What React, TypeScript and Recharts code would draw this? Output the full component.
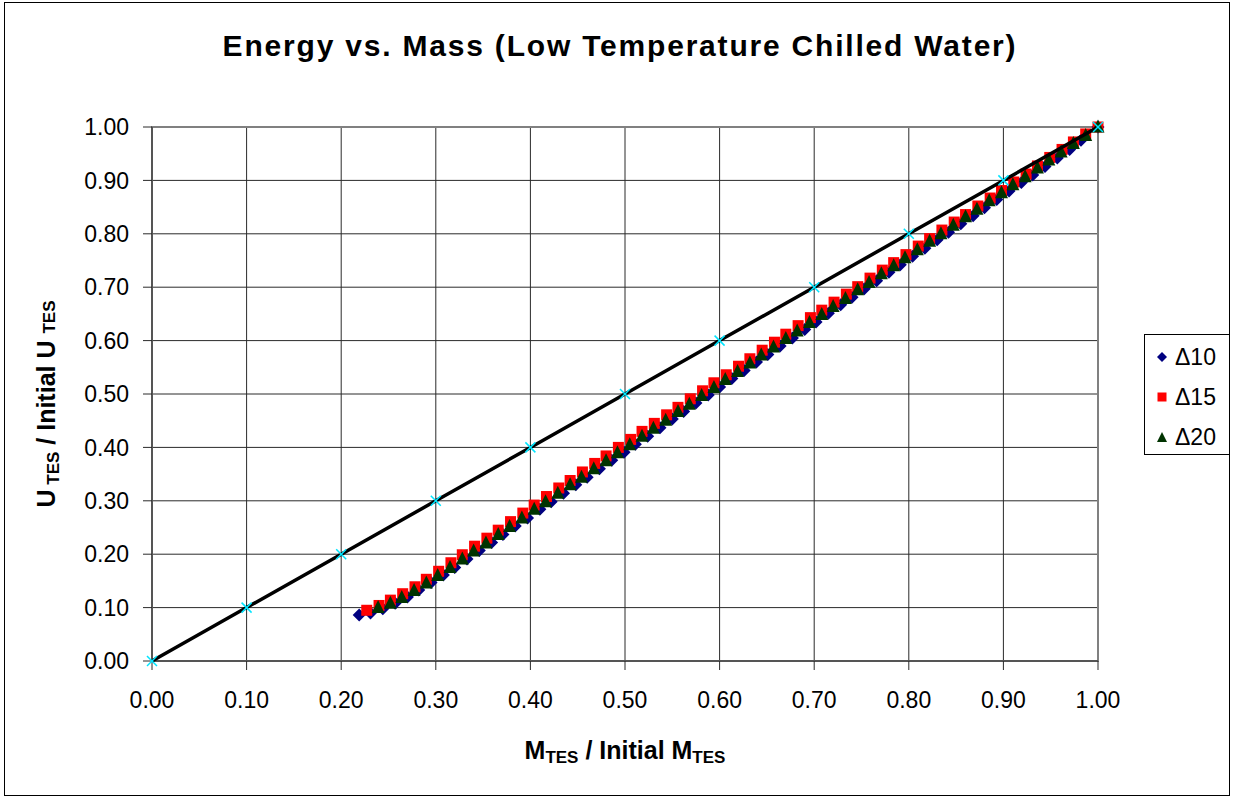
import React from 'react';
import { ScatterChart, Scatter, XAxis, YAxis, CartesianGrid, ReferenceArea } from 'recharts';

// mass fraction / energy fraction
const massD10 = [
  0.219, 0.231, 0.244, 0.257, 0.270, 0.282, 0.295, 0.308, 0.320, 0.333,
  0.346, 0.359, 0.371, 0.384, 0.397, 0.410, 0.422, 0.435, 0.448, 0.460,
  0.473, 0.486, 0.499, 0.511, 0.524, 0.537, 0.550, 0.562, 0.575, 0.588,
  0.600, 0.613, 0.626, 0.639, 0.651, 0.664, 0.677, 0.690, 0.702, 0.715,
  0.728, 0.740, 0.753, 0.766, 0.779, 0.791, 0.804, 0.817, 0.830, 0.842,
  0.855, 0.868, 0.880, 0.893, 0.906, 0.919, 0.931, 0.944, 0.957, 0.970,
  0.982, 1.000,
];
const energyD10 = [
  0.086, 0.090, 0.098, 0.108, 0.120, 0.133, 0.147, 0.161, 0.175, 0.191,
  0.207, 0.222, 0.237, 0.253, 0.268, 0.284, 0.298, 0.314, 0.330, 0.344,
  0.360, 0.376, 0.391, 0.406, 0.421, 0.437, 0.453, 0.467, 0.483, 0.498,
  0.513, 0.529, 0.544, 0.560, 0.574, 0.590, 0.605, 0.621, 0.635, 0.651,
  0.667, 0.681, 0.697, 0.712, 0.728, 0.742, 0.758, 0.773, 0.789, 0.803,
  0.819, 0.834, 0.849, 0.864, 0.880, 0.896, 0.910, 0.926, 0.942, 0.958,
  0.975, 1.000,
];

const massD15 = [
  0.227, 0.240, 0.252, 0.265, 0.278, 0.290, 0.303, 0.316, 0.328, 0.341,
  0.354, 0.366, 0.379, 0.392, 0.404, 0.417, 0.430, 0.442, 0.455, 0.468,
  0.480, 0.493, 0.506, 0.518, 0.531, 0.544, 0.556, 0.569, 0.582, 0.594,
  0.607, 0.620, 0.632, 0.645, 0.658, 0.670, 0.683, 0.696, 0.708, 0.721,
  0.734, 0.746, 0.759, 0.772, 0.784, 0.797, 0.810, 0.822, 0.835, 0.848,
  0.860, 0.873, 0.886, 0.898, 0.911, 0.924, 0.936, 0.949, 0.962, 0.974,
  0.987, 1.000,
];
const energyD15 = [
  0.095, 0.104, 0.114, 0.126, 0.139, 0.153, 0.168, 0.184, 0.199, 0.215,
  0.230, 0.245, 0.261, 0.277, 0.292, 0.308, 0.324, 0.338, 0.354, 0.370,
  0.384, 0.400, 0.415, 0.430, 0.445, 0.461, 0.475, 0.491, 0.506, 0.521,
  0.536, 0.552, 0.566, 0.582, 0.597, 0.612, 0.628, 0.643, 0.657, 0.672,
  0.687, 0.701, 0.717, 0.732, 0.746, 0.761, 0.777, 0.791, 0.807, 0.822,
  0.836, 0.852, 0.867, 0.881, 0.897, 0.912, 0.927, 0.943, 0.958, 0.972,
  0.987, 1.000,
];

const massD20 = [
  0.239, 0.252, 0.264, 0.277, 0.290, 0.302, 0.315, 0.328, 0.340, 0.353,
  0.366, 0.378, 0.391, 0.404, 0.416, 0.429, 0.442, 0.454, 0.467, 0.480,
  0.492, 0.505, 0.518, 0.530, 0.543, 0.556, 0.568, 0.581, 0.594, 0.606,
  0.619, 0.632, 0.644, 0.657, 0.670, 0.682, 0.695, 0.708, 0.720, 0.733,
  0.746, 0.758, 0.771, 0.784, 0.796, 0.809, 0.822, 0.834, 0.847, 0.860,
  0.872, 0.885, 0.898, 0.910, 0.923, 0.936, 0.948, 0.961, 0.974, 0.987,
  1.000,
];
const energyD20 = [
  0.100, 0.108, 0.119, 0.132, 0.146, 0.160, 0.175, 0.191, 0.206, 0.221,
  0.237, 0.252, 0.268, 0.284, 0.298, 0.314, 0.330, 0.344, 0.360, 0.375,
  0.390, 0.405, 0.421, 0.436, 0.451, 0.467, 0.481, 0.497, 0.512, 0.527,
  0.542, 0.558, 0.573, 0.588, 0.604, 0.618, 0.634, 0.649, 0.664, 0.679,
  0.695, 0.709, 0.725, 0.740, 0.755, 0.770, 0.786, 0.800, 0.816, 0.832,
  0.846, 0.862, 0.877, 0.892, 0.907, 0.923, 0.938, 0.953, 0.969, 0.984,
  1.000,
];

// 1:1 reference line
const idealMass = [0, 0.1, 0.2, 0.3, 0.4, 0.5, 0.6, 0.7, 0.8, 0.9, 1.0];
const idealEnergy = [0, 0.1, 0.2, 0.3, 0.4, 0.5, 0.6, 0.7, 0.8, 0.9, 1.0];

const axisTicks = [0, 0.1, 0.2, 0.3, 0.4, 0.5, 0.6, 0.7, 0.8, 0.9, 1.0];

const zip = (xs: number[], ys: number[]) =>
  xs.slice(0, Math.min(xs.length, ys.length)).map((x, i) => ({ x, y: ys[i] }));

const d10 = zip(massD10, energyD10);
const d15 = zip(massD15, energyD15);
const d20 = zip(massD20, energyD20);
const ideal = zip(idealMass, idealEnergy);

const FONT = '"Liberation Sans", Arial, sans-serif';
const GRID = '#2a2a2a';

const DiamondMark = (p: any) => (
  <polygon points={`${p.cx},${p.cy - 6.5} ${p.cx + 6.5},${p.cy} ${p.cx},${p.cy + 6.5} ${p.cx - 6.5},${p.cy}`} fill="#000080" />
);
const SquareMark = (p: any) => <rect x={p.cx - 5.5} y={p.cy - 5.5} width={11} height={11} fill="#ff0000" />;
const TriangleMark = (p: any) => (
  <polygon points={`${p.cx},${p.cy - 7.5} ${p.cx + 6.5},${p.cy + 5.5} ${p.cx - 6.5},${p.cy + 5.5}`} fill="#003300" />
);
const CrossMark = (p: any) => (
  <g stroke="#00e5ff" strokeWidth={1.5}>
    <line x1={p.cx - 5} y1={p.cy - 5} x2={p.cx + 5} y2={p.cy + 5} />
    <line x1={p.cx - 5} y1={p.cy + 5} x2={p.cx + 5} y2={p.cy - 5} />
  </g>
);

const legendItems = [
  { label: '\u039410', mark: <polygon points="6,1 11,6 6,11 1,6" fill="#000080" /> },
  { label: '\u039415', mark: <rect x={1.5} y={1.5} width={9} height={9} fill="#ff0000" /> },
  { label: '\u039420', mark: <polygon points="6,1 11,11 1,11" fill="#003300" /> },
];

const sub = { fontSize: 17, verticalAlign: '-0.25em' } as React.CSSProperties;

export default function App() {
  return (
    <div style={{ position: 'absolute', left: 0, top: 0, width: 1233, height: 797, background: '#fff', fontFamily: FONT }}>
      <div style={{ position: 'absolute', left: 4, top: 2, width: 1226, height: 794, border: '1px solid #000', boxSizing: 'border-box' }} />

      <div style={{ position: 'absolute', left: 0, top: 29, width: 1240, textAlign: 'center', fontSize: 30, fontWeight: 'bold', letterSpacing: 1.8, whiteSpace: 'nowrap' }}>
        Energy vs. Mass (Low Temperature Chilled Water)
      </div>

      <ScatterChart width={1233} height={797} margin={{ top: 127, right: 135, left: 92, bottom: 86 }} style={{ position: 'absolute', left: 0, top: 0 }}>
        <CartesianGrid stroke={GRID} strokeWidth={1} />
        <ReferenceArea x1={0} x2={1} y1={0} y2={1} fill="none" stroke="#808080" strokeWidth={2} />
        <XAxis
          type="number"
          dataKey="x"
          domain={[0, 1]}
          ticks={axisTicks}
          tickFormatter={(v: number) => v.toFixed(2)}
          height={50}
          tickSize={9}
          tickMargin={22}
          stroke={GRID}
          tick={{ fill: '#000', fontSize: 23, fontFamily: FONT }}
          interval={0}
        />
        <YAxis
          type="number"
          dataKey="y"
          domain={[0, 1]}
          ticks={axisTicks}
          tickFormatter={(v: number) => v.toFixed(2)}
          width={60}
          tickSize={9}
          tickMargin={14}
          stroke={GRID}
          tick={{ fill: '#000', fontSize: 23, fontFamily: FONT }}
          interval={0}
        />
        <Scatter name="Δ10" data={d10} shape={DiamondMark} isAnimationActive={false} />
        <Scatter name="Δ15" data={d15} shape={SquareMark} isAnimationActive={false} />
        <Scatter name="Δ20" data={d20} shape={TriangleMark} isAnimationActive={false} />
        <Scatter name="Ideal" data={ideal} shape={CrossMark} line={{ stroke: '#000', strokeWidth: 3.5 }} isAnimationActive={false} />
      </ScatterChart>

      <div style={{ position: 'absolute', left: 0, top: 736, width: 1250, textAlign: 'center', fontSize: 25, fontWeight: 'bold', whiteSpace: 'nowrap' }}>
        M<span style={sub}>TES</span> / Initial M<span style={sub}>TES</span>
      </div>

      <div style={{ position: 'absolute', left: 48, top: 404, transform: 'translate(-50%, -50%) rotate(-90deg)', fontSize: 25, fontWeight: 'bold', whiteSpace: 'nowrap' }}>
        U<span style={sub}> TES</span> / Initial U <span style={{ fontSize: 17 }}>TES</span>
      </div>

      <div style={{ position: 'absolute', left: 1144, top: 334, width: 86, height: 121, border: '1px solid #000', boxSizing: 'border-box', background: '#fff' }}>
        {legendItems.map((it, i) => (
          <div key={i} style={{ position: 'absolute', left: 11, top: 7 + i * 40, height: 30, display: 'flex', alignItems: 'center' }}>
            <svg width={12} height={12} style={{ marginRight: 7 }}>{it.mark}</svg>
            <span style={{ fontSize: 23 }}>{it.label}</span>
          </div>
        ))}
      </div>
    </div>
  );
}
